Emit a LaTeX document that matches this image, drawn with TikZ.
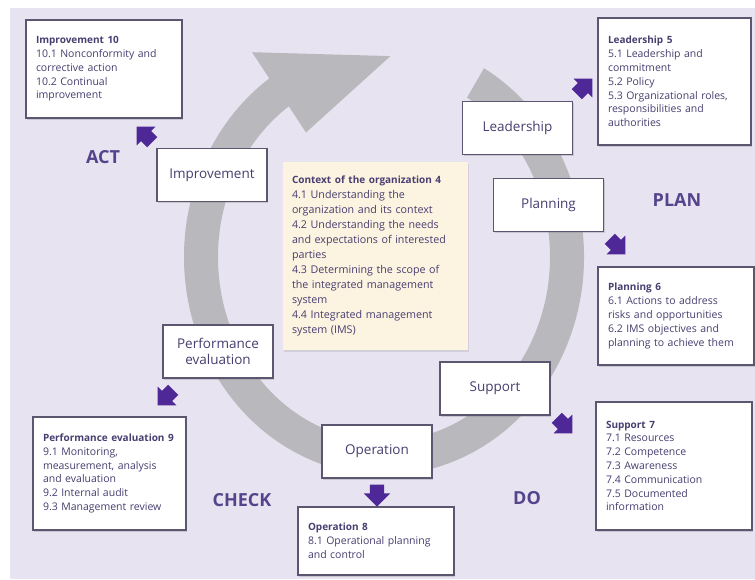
\documentclass[tikz,border=0pt]{standalone}
\usepackage{fontspec}
\setmainfont{Open Sans}
\usetikzlibrary{shapes.arrows, shadows}

\definecolor{bgpurple}{RGB}{231,227,241}
\definecolor{ringgrey}{RGB}{184,184,189}
\definecolor{boxline}{RGB}{92,86,112}
\definecolor{boxtext}{RGB}{72,62,112}
\definecolor{pointerpurple}{RGB}{78,40,150}
\definecolor{phasetext}{RGB}{84,68,140}
\definecolor{contextfill}{RGB}{252,243,224}

\tikzstyle{stage} = [rectangle,
minimum width=110pt,
minimum height=53pt,
align=center,
draw=boxline, line width=1.5pt,
fill=white,
text=boxtext,
font=\fontsize{13.5}{15.5}\selectfont,
drop shadow={shadow xshift=1pt, shadow yshift=-1.5pt, opacity=0.3}]
\tikzstyle{clause} = [rectangle,
inner xsep=10pt,
align=left,
draw=boxline, line width=1.5pt,
fill=white,
text=boxtext,
font=\fontsize{10.5}{13.8}\selectfont,
drop shadow={shadow xshift=1pt, shadow yshift=-1.5pt, opacity=0.3}]
\tikzstyle{phase} = [text=phasetext, font=\fontsize{18}{20}\selectfont\bfseries]
\tikzstyle{pointer} = [single arrow,
minimum height=22pt,
inner sep=7pt,
single arrow head extend=6pt,
fill=pointerpurple]

\newcommand{\clausetitle}[1]{{\fontsize{10}{13.8}\selectfont\bfseries #1}}

\begin{document}
\begin{tikzpicture}[x=1pt, y=1pt]
    \useasboundingbox (0,0) rectangle (755,-579);
    \fill[bgpurple] (10,-8) rectangle (755,-579);

    % grey cycle arrow, clockwise
    \begin{scope}[shift={(384,-257)}]
        \fill[ringgrey] (60:200pt and 218pt)
            arc[start angle=60, end angle=-235, x radius=200pt, y radius=218pt]
            -- (125:230pt and 250pt) -- (88:183pt and 201pt) -- (125:136pt and 152pt)
            -- (125:166pt and 184pt)
            arc[start angle=125, end angle=420, x radius=166pt, y radius=184pt] -- cycle;
    \end{scope}

    \node (context) [rectangle, fill=contextfill, text=boxtext, align=left,
        minimum width=185pt, minimum height=188pt, text width=167pt,
        font=\fontsize{10.7}{15}\selectfont,
        drop shadow={shadow xshift=1pt, shadow yshift=-1.5pt, opacity=0.2}]
        at (375.5,-256) {\clausetitle{Context of the organization 4}\\
        4.1 Understanding the\\
        organization and its context\\
        4.2 Understanding the needs\\
        and expectations of interested\\
        parties\\
        4.3 Determining the scope of\\
        the integrated management\\
        system\\
        4.4 Integrated management\\
        system (IMS)};

    % stages on the cycle
    \node (lead) [stage] at (517.5,-128) {Leadership};
    \node (plan) [stage] at (548.5,-205) {Planning};
    \node (supp) [stage] at (495,-388.5) {Support};
    \node (oper) [stage] at (377,-451.5) {Operation};
    \node (perf) [stage] at (218,-351.5) {Performance\\evaluation};
    \node (impr) [stage] at (212,-175) {Improvement};

    % clause boxes
    \node (impr10) [clause, text width=136pt, minimum height=98pt] at (104,-69)
        {\clausetitle{Improvement 10}\\
        10.1 Nonconformity and\\
        corrective action\\
        10.2 Continual\\
        improvement};
    \node (lead5) [clause, text width=133pt, minimum height=127pt] at (674.5,-81.5)
        {\clausetitle{Leadership 5}\\
        5.1 Leadership and\\
        commitment\\
        5.2 Policy\\
        5.3 Organizational roles,\\
        responsibilities and\\
        authorities};
    \node (plan6) [clause, text width=136pt, minimum height=98pt] at (676,-316)
        {\clausetitle{Planning 6}\\
        6.1 Actions to address\\
        risks and opportunities\\
        6.2 IMS objectives and\\
        planning to achieve them};
    \node (supp7) [clause, text width=136pt, minimum height=128pt] at (674,-466)
        {\clausetitle{Support 7}\\
        7.1 Resources\\
        7.2 Competence\\
        7.3 Awareness\\
        7.4 Communication\\
        7.5 Documented\\
        information};
    \node (oper8) [clause, text width=136pt, minimum height=68pt] at (376,-541)
        {\clausetitle{Operation 8}\\
        8.1 Operational planning\\
        and control};
    \node (perf9) [clause, text width=133pt, minimum height=113pt] at (109.5,-473.5)
        {\clausetitle{Performance evaluation 9}\\
        9.1 Monitoring,\\
        measurement, analysis\\
        and evaluation\\
        9.2 Internal audit\\
        9.3 Management review};

    % pointers from the stages out to their clauses
    \node (toimpr) [pointer, rotate=135] at (147,-137) {};
    \node (tolead) [pointer, rotate=45] at (582,-89) {};
    \node (toplan) [pointer, rotate=-45] at (615,-244) {};
    \node (tosupp) [pointer, rotate=-45] at (562,-423) {};
    \node (tooper) [pointer, rotate=-90] at (377,-492) {};
    \node (toperf) [pointer, rotate=-135] at (168,-395) {};

    % PDCA phases
    \node (act) [phase] at (103,-157) {ACT};
    \node (planphase) [phase] at (677,-200) {PLAN};
    \node (do) [phase] at (527,-498) {DO};
    \node (check) [phase] at (242,-500) {CHECK};
\end{tikzpicture}
\end{document}
